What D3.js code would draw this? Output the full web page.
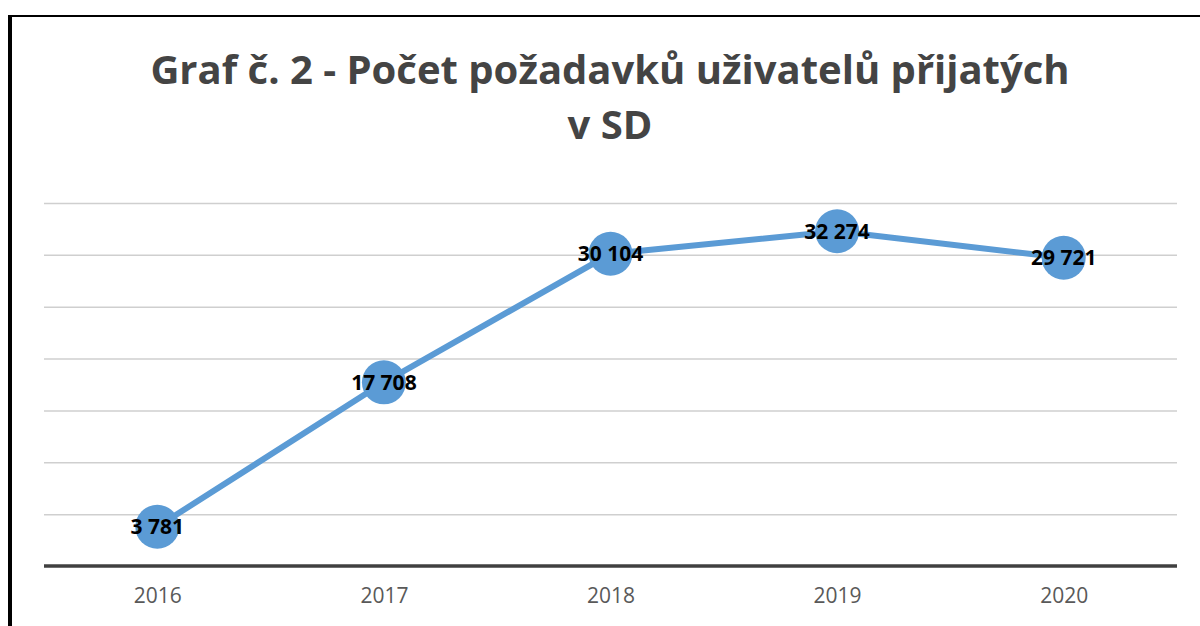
<!DOCTYPE html>
<html>
<head>
<meta charset="utf-8">
<script src="https://cdn.jsdelivr.net/npm/d3@7"></script>
<style>
  body { margin: 0; background: #fff; }
  svg { display: block; font-family: "Open Sans", sans-serif; }
</style>
</head>
<body>
<div id="chart"></div>
<script>
var years = ["2016", "2017", "2018", "2019", "2020"];
var counts = [3781, 17708, 30104, 32274, 29721];
var gridValues = [5000, 10000, 15000, 20000, 25000, 30000, 35000];
var titleLines = ["Graf č. 2 - Počet požadavků uživatelů přijatých", "v SD"];

var W = 1200, H = 626;
var margin = { top: 203, right: 23, bottom: 60, left: 44 },
  width = W - margin.left - margin.right,
  height = H - margin.top - margin.bottom;

var fmt = function (v) {
  return d3.format(",")(v).replace(/,/g, " ");
};

var svg = d3
  .select("#chart")
  .append("svg")
  .attr("width", W)
  .attr("height", H);

// frame (only left + top edges visible)
svg.append("line")
  .attr("x1", 10).attr("x2", 10).attr("y1", 15).attr("y2", H)
  .attr("stroke", "#000").attr("stroke-width", 4);
svg.append("line")
  .attr("x1", 8).attr("x2", W).attr("y1", 16).attr("y2", 16)
  .attr("stroke", "#000").attr("stroke-width", 2);

// title
svg.append("text")
  .attr("x", 610)
  .attr("y", 84)
  .attr("text-anchor", "middle")
  .style("font-size", "40px")
  .style("font-weight", "bold")
  .style("fill", "#444")
  .selectAll("tspan")
  .data(titleLines)
  .enter()
  .append("tspan")
  .attr("x", 610)
  .attr("dy", function (d, i) { return i == 0 ? 0 : 55; })
  .text(function (d) { return d; });

var g = svg.append("g")
  .attr("transform", "translate(" + margin.left + "," + margin.top + ")");

var x = d3.scalePoint().domain(years).range([0, width]).padding(0.5);
var y = d3.scaleLinear().domain([0, 35000]).range([height, 0]);

// gridlines
var grid = g.append("g")
  .call(d3.axisLeft(y).tickValues(gridValues).tickSize(-width).tickFormat(""));
grid.select(".domain").remove();
grid.selectAll(".tick line").attr("stroke", "#cfcfcf").attr("stroke-width", 1.5);

// x axis
var xAxis = g.append("g")
  .attr("transform", "translate(0," + height + ")")
  .call(d3.axisBottom(x).tickSize(0).tickPadding(22));
xAxis.select(".domain").remove();
xAxis.append("line")
  .attr("x1", 0).attr("x2", width).attr("y1", 0).attr("y2", 0)
  .attr("stroke", "#404040").attr("stroke-width", 3.5);
xAxis.selectAll(".tick text")
  .style("font-size", "21px")
  .style("font-family", "'Open Sans', sans-serif")
  .style("fill", "#595959");

var data = years.map(function (d, i) {
  return { year: d, count: counts[i] };
});

var line = d3.line()
  .x(function (d) { return x(d.year); })
  .y(function (d) { return y(d.count); });

g.append("path")
  .datum(data)
  .attr("d", line)
  .attr("fill", "none")
  .attr("stroke", "#5b9bd5")
  .attr("stroke-width", 6)
  .attr("stroke-linejoin", "round");

g.selectAll(".dot")
  .data(data)
  .enter()
  .append("circle")
  .attr("class", "dot")
  .attr("cx", function (d) { return x(d.year); })
  .attr("cy", function (d) { return y(d.count); })
  .attr("r", 22)
  .attr("fill", "#5b9bd5");

g.selectAll(".lbl")
  .data(data)
  .enter()
  .append("text")
  .attr("class", "lbl")
  .attr("x", function (d) { return x(d.year); })
  .attr("y", function (d) { return y(d.count); })
  .attr("dy", "0.36em")
  .attr("text-anchor", "middle")
  .style("font-size", "21px")
  .style("font-weight", "bold")
  .style("fill", "#000")
  .text(function (d) { return fmt(d.count); });
</script>
</body>
</html>
